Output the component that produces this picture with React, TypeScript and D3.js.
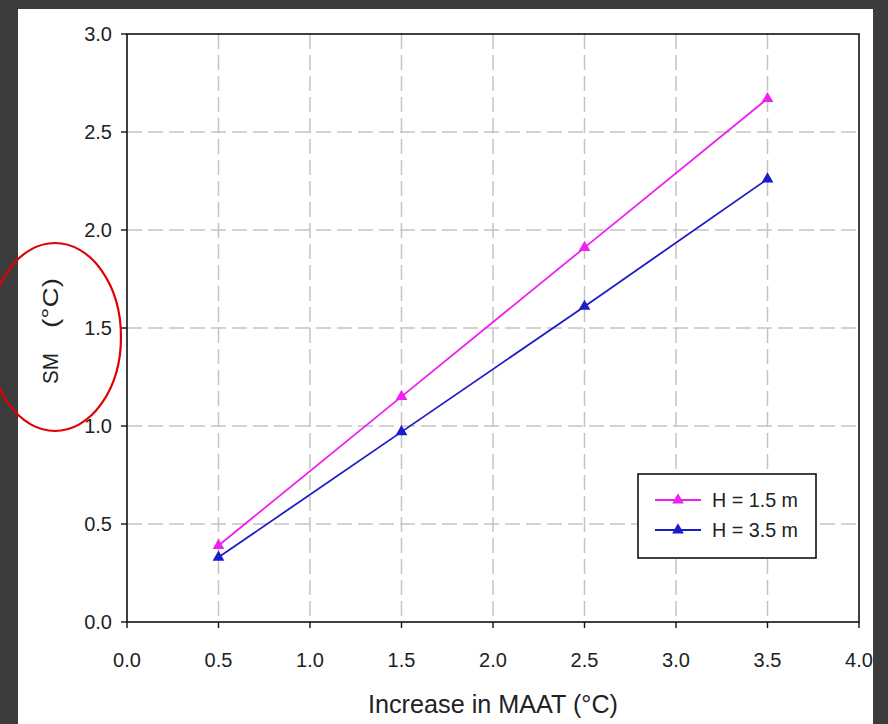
import React from "react";
import * as d3 from "d3";

const xValues = [0.5, 1.5, 2.5, 3.5];
const seriesH15 = [0.39, 1.15, 1.91, 2.67];
const seriesH35 = [0.33, 0.97, 1.61, 2.26];
const seriesNames = ["H = 1.5 m", "H = 3.5 m"];
const seriesColors = ["#ee22ee", "#1c1cc8"];
const xTicks = [0, 0.5, 1, 1.5, 2, 2.5, 3, 3.5, 4];
const yTicks = [0, 0.5, 1, 1.5, 2, 2.5, 3];

export default function App() {
  const W = 888, H = 724;
  const left = 127, right = 859, top = 34, bottom = 622;
  const x = d3.scaleLinear().domain([0, 4]).range([left, right]);
  const y = d3.scaleLinear().domain([0, 3]).range([bottom, top]);
  const line = d3.line<[number, number]>().x(d => x(d[0])).y(d => y(d[1]));
  const tri = d3.symbol().type(d3.symbolTriangle).size(60)();
  const series = [seriesH15, seriesH35];
  const font = "'Liberation Sans', Arial, sans-serif";

  return (
    <svg width={W} height={H} style={{ position: "absolute", left: 0, top: 0 }} fontFamily={font}>
      <rect x={0} y={0} width={W} height={H} fill="#3c3c3c" />
      <rect x={18} y={9} width={855} height={H - 9} fill="#ffffff" />
      {/* grid */}
      {xTicks.slice(1, -1).map(t => (
        <line key={"gx" + t} x1={x(t)} x2={x(t)} y1={top} y2={bottom} stroke="#c4c4c4" strokeWidth={1.5} strokeDasharray="15 6" />
      ))}
      {yTicks.slice(1, -1).map(t => (
        <line key={"gy" + t} x1={left} x2={right} y1={y(t)} y2={y(t)} stroke="#c4c4c4" strokeWidth={1.5} strokeDasharray="15 6" />
      ))}
      {/* frame */}
      <rect x={left} y={top} width={right - left} height={bottom - top} fill="none" stroke="#111" strokeWidth={1.6} />
      {/* ticks */}
      {xTicks.map(t => (
        <g key={"xt" + t}>
          <line x1={x(t)} x2={x(t)} y1={bottom} y2={bottom + 6} stroke="#111" strokeWidth={1.4} />
          <text x={x(t)} y={667} textAnchor="middle" fontSize={20} fill="#222">{t.toFixed(1)}</text>
        </g>
      ))}
      {yTicks.map(t => (
        <g key={"yt" + t}>
          <line x1={left - 6} x2={left} y1={y(t)} y2={y(t)} stroke="#111" strokeWidth={1.4} />
          <text x={112} y={y(t) + 7} textAnchor="end" fontSize={20} fill="#222">{t.toFixed(1)}</text>
        </g>
      ))}
      {/* axis titles */}
      <text x={493} y={713} textAnchor="middle" fontSize={26} fill="#222" textLength={250} lengthAdjust="spacingAndGlyphs">Increase in MAAT (°C)</text>
      <g transform="translate(58,384) rotate(-90)" fontSize={22} fill="#222">
        <text x={0} y={0} textLength={31} lengthAdjust="spacingAndGlyphs">SM</text>
        <text x={56} y={0} textLength={50} lengthAdjust="spacingAndGlyphs">(°C)</text>
      </g>
      {/* series */}
      {series.map((s, i) => (
        <g key={"s" + i}>
          <path d={line(xValues.map((v, j) => [v, s[j]] as [number, number])) || ""} fill="none" stroke={seriesColors[i]} strokeWidth={1.8} />
          {xValues.map((v, j) => (
            <path key={j} d={tri || ""} transform={`translate(${x(v)},${y(s[j])})`} fill={seriesColors[i]} />
          ))}
        </g>
      ))}
      {/* legend */}
      <rect x={638} y={474} width={178} height={84} fill="#fff" stroke="#111" strokeWidth={1.6} />
      {seriesNames.map((n, i) => (
        <g key={"l" + i}>
          <line x1={655} x2={701} y1={500 + i * 30} y2={500 + i * 30} stroke={seriesColors[i]} strokeWidth={1.8} />
          <path d={tri || ""} transform={`translate(678,${500 + i * 30})`} fill={seriesColors[i]} />
          <text x={712} y={507 + i * 30} fontSize={21} fill="#222" textLength={86} lengthAdjust="spacingAndGlyphs">{n}</text>
        </g>
      ))}
      {/* red annotation ellipse */}
      <ellipse cx={55} cy={337} rx={66} ry={94} fill="none" stroke="#e00000" strokeWidth={2.2} />
    </svg>
  );
}
